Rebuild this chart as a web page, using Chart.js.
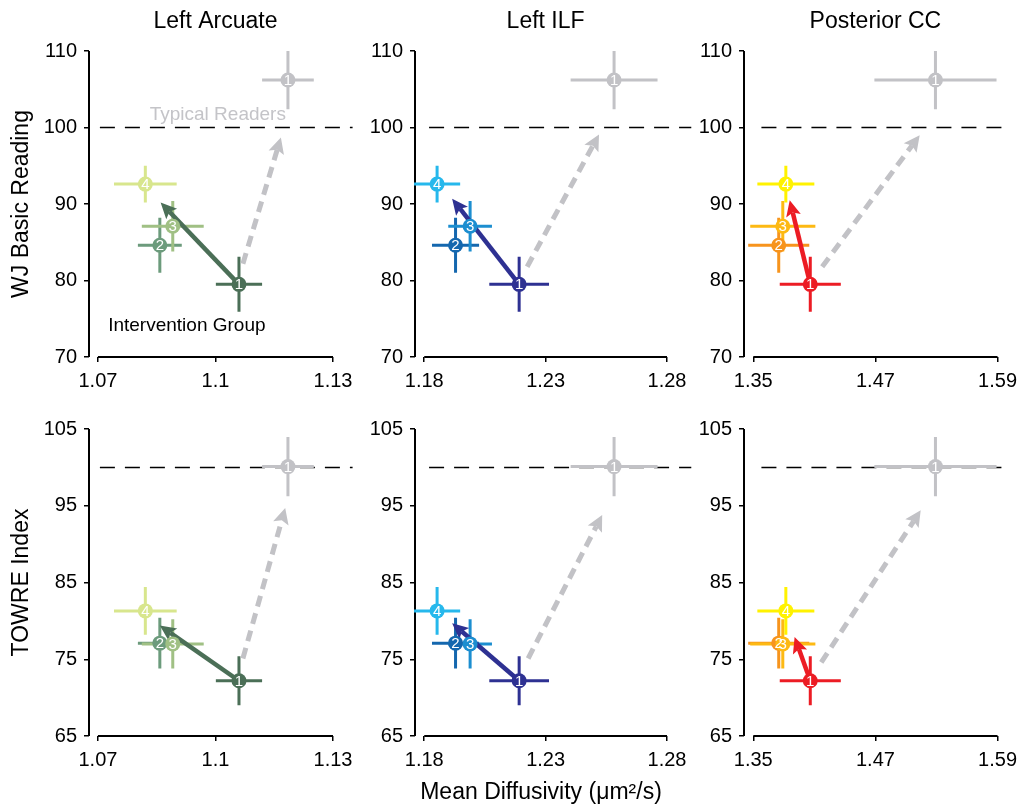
<!DOCTYPE html>
<html>
<head>
<meta charset="utf-8">
<script src="https://cdn.jsdelivr.net/npm/chart.js@4/dist/chart.umd.min.js"></script>
<style>
  body { margin: 0; background: #fff; }
  #fig { position: relative; width: 1024px; height: 808px; overflow: hidden; }
  #fig canvas { position: absolute; }
</style>
</head>
<body>
<div id="fig"></div>
<script>
const tracts = ['Left Arcuate', 'Left ILF', 'Posterior CC'];
const sessions = ['1', '2', '3', '4'];

// mean diffusivity per session (same values in both rows)
const arcuateMD = [1.1060, 1.0858, 1.0891, 1.0821];
const arcuateMDErr = [0.0059, 0.0056, 0.0079, 0.0080];
const ilfMD = [1.2191, 1.1929, 1.1989, 1.1853];
const ilfMDErr = [0.0123, 0.0097, 0.0090, 0.0095];
const ccMD = [1.406, 1.375, 1.379, 1.382];
const ccMDErr = [0.030, 0.030, 0.032, 0.028];

// typical readers, one per tract
const typicalMD = [1.1185, 1.2582, 1.529];
const typicalMDErr = [0.0066, 0.0179, 0.060];

// reading scores per session
const wjScore = [79.5, 84.6, 87.1, 92.6];
const wjErr = [3.6, 3.6, 3.3, 2.4];
const towreScore = [72.2, 77.1, 77.0, 81.3];
const towreErr = [3.2, 3.3, 3.2, 3.1];
const typicalWJ = 106.2;
const typicalWJErr = 3.8;
const typicalTOWRE = 100.1;
const typicalTOWREErr = 3.85;
const typicalLevel = 100;

// intervention arrow: from session 1 to this tip (per tract)
const wjArrowTipMD = [1.0860, 1.1915, 1.3858];
const wjArrowTipScore = [90.2, 90.7, 90.5];
const towreArrowTipMD = [1.0858, 1.1915, 1.3906];
const towreArrowTipScore = [79.4, 79.7, 77.9];

// grey dashed arrow towards typical readers
const wjGainTailMD = [1.107, 1.2224, 1.4177];
const wjGainTailScore = [82.2, 81.8, 81.8];
const wjGainTipMD = [1.1167, 1.2520, 1.5135];
const wjGainTipScore = [98.7, 99.1, 99.0];
const towreGainTailMD = [1.107, 1.2228, 1.4168];
const towreGainTailScore = [75.1, 75.1, 74.6];
const towreGainTipMD = [1.1178, 1.2533, 1.5145];
const towreGainTipScore = [94.7, 93.8, 94.4];

// dashed reference line extent (MD)
const refLineStart = [1.0705, 1.182, 1.358];
const refLineEnd = [1.135, 1.290, 1.595];

// tick labels
const xTicksArcuate = [1.07, 1.1, 1.13];
const xTicksILF = [1.18, 1.23, 1.28];
const xTicksCC = [1.35, 1.47, 1.59];
const wjTicks = [70, 80, 90, 100, 110];
const towreTicks = [65, 75, 85, 95, 105];

const arcuateColors = ['#4b6f57', '#6c9b7c', '#a0c084', '#d8e68d'];
const ilfColors = ['#2e3192', '#1467ae', '#1c8ed0', '#26b8ec'];
const ccColors = ['#ec1c24', '#f7941d', '#fdb913', '#fff200'];
const typicalColor = '#c2c2c6';

Chart.defaults.font.family = "'Liberation Sans', Arial, sans-serif";
Chart.defaults.color = '#000';

const tractData = [
  { md: arcuateMD, mdErr: arcuateMDErr, colors: arcuateColors, xTicks: xTicksArcuate },
  { md: ilfMD, mdErr: ilfMDErr, colors: ilfColors, xTicks: xTicksILF },
  { md: ccMD, mdErr: ccMDErr, colors: ccColors, xTicks: xTicksCC }
];
const measures = [
  { name: 'WJ Basic Reading', score: wjScore, err: wjErr, typ: typicalWJ, typErr: typicalWJErr, ticks: wjTicks,
    tipMD: wjArrowTipMD, tipScore: wjArrowTipScore, gTailMD: wjGainTailMD, gTailScore: wjGainTailScore,
    gTipMD: wjGainTipMD, gTipScore: wjGainTipScore },
  { name: 'TOWRE Index', score: towreScore, err: towreErr, typ: typicalTOWRE, typErr: typicalTOWREErr, ticks: towreTicks,
    tipMD: towreArrowTipMD, tipScore: towreArrowTipScore, gTailMD: towreGainTailMD, gTailScore: towreGainTailScore,
    gTipMD: towreGainTipMD, gTipScore: towreGainTipScore }
];

// layout
const colLeft = [0, 345, 680], colWidth = [360, 350, 344], yAxisW = [89, 70, 64], padRight = [27, 28, 23];
const rowTop = [0, 400], rowHeight = [400, 408], padTop = [51, 29], xAxisH = [43, 72];

function drawArrow(ctx, x0, y0, x1, y1, color, width, headLen, headHalf, dash) {
  const a = Math.atan2(y1 - y0, x1 - x0);
  const c = Math.cos(a), s = Math.sin(a);
  const bx = x1 - headLen * c, by = y1 - headLen * s;
  const nx = x1 - headLen * 0.8 * c, ny = y1 - headLen * 0.8 * s;
  ctx.save();
  ctx.strokeStyle = color;
  ctx.lineWidth = width;
  ctx.setLineDash(dash || []);
  ctx.beginPath();
  ctx.moveTo(x0, y0);
  ctx.lineTo(nx, ny);
  ctx.stroke();
  ctx.setLineDash([]);
  ctx.fillStyle = color;
  ctx.beginPath();
  ctx.moveTo(x1, y1);
  ctx.lineTo(bx + headHalf * s, by - headHalf * c);
  ctx.lineTo(nx, ny);
  ctx.lineTo(bx - headHalf * s, by + headHalf * c);
  ctx.closePath();
  ctx.fill();
  ctx.restore();
}

function crossBar(ctx, xs, ys, x, xe, y, ye, color) {
  ctx.strokeStyle = color;
  ctx.lineWidth = 3;
  ctx.beginPath();
  ctx.moveTo(xs.getPixelForValue(x - xe), ys.getPixelForValue(y));
  ctx.lineTo(xs.getPixelForValue(x + xe), ys.getPixelForValue(y));
  ctx.moveTo(xs.getPixelForValue(x), ys.getPixelForValue(y - ye));
  ctx.lineTo(xs.getPixelForValue(x), ys.getPixelForValue(y + ye));
  ctx.stroke();
}

const marks = {
  id: 'marks',
  beforeDatasetsDraw(chart, args, o) {
    const ctx = chart.ctx, xs = chart.scales.x, ys = chart.scales.y;
    const xt = o.tract.xTicks;
    ctx.save();
    ctx.strokeStyle = '#000';
    ctx.lineWidth = 2;
    ctx.beginPath();
    ctx.moveTo(xs.getPixelForValue(xt[0]), chart.chartArea.bottom);
    ctx.lineTo(xs.getPixelForValue(xt[xt.length - 1]), chart.chartArea.bottom);
    ctx.moveTo(chart.chartArea.left, ys.getPixelForValue(o.measure.ticks[o.measure.ticks.length - 1]));
    ctx.lineTo(chart.chartArea.left, ys.getPixelForValue(o.measure.ticks[0]));
    ctx.stroke();
    ctx.restore();
  },
  afterDatasetDraw(chart, args, o) {
    if (args.index !== 2) return;
    const ctx = chart.ctx, xs = chart.scales.x, ys = chart.scales.y;
    const t = o.tract, m = o.measure, k = o.k;
    ctx.save();
    crossBar(ctx, xs, ys, typicalMD[k], typicalMDErr[k], m.typ, m.typErr, typicalColor);
    for (let i = 0; i < sessions.length; i++) {
      crossBar(ctx, xs, ys, t.md[i], t.mdErr[i], m.score[i], m.err[i], t.colors[i]);
    }
    ctx.restore();
    drawArrow(ctx, xs.getPixelForValue(m.gTailMD[k]), ys.getPixelForValue(m.gTailScore[k]),
      xs.getPixelForValue(m.gTipMD[k]), ys.getPixelForValue(m.gTipScore[k]),
      typicalColor, 5, 16, 8, [11, 7]);
    drawArrow(ctx, xs.getPixelForValue(t.md[0]), ys.getPixelForValue(m.score[0]),
      xs.getPixelForValue(m.tipMD[k]), ys.getPixelForValue(m.tipScore[k]),
      t.colors[0], 4.5, 16, 7.5);
  },
  afterDatasetsDraw(chart, args, o) {
    const ctx = chart.ctx, xs = chart.scales.x, ys = chart.scales.y;
    const t = o.tract, m = o.measure, k = o.k;
    ctx.save();
    ctx.fillStyle = '#fff';
    ctx.font = "15px 'Liberation Sans', Arial, sans-serif";
    ctx.textAlign = 'center';
    ctx.textBaseline = 'middle';
    ctx.fillText('1', xs.getPixelForValue(typicalMD[k]), ys.getPixelForValue(m.typ) + 1);
    for (let i = 0; i < sessions.length; i++) {
      ctx.fillText(sessions[i], xs.getPixelForValue(t.md[i]), ys.getPixelForValue(m.score[i]) + 1);
    }
    const xt = t.xTicks;
    const cx = (xs.getPixelForValue(xt[0]) + xs.getPixelForValue(xt[xt.length - 1])) / 2;
    if (o.row === 0) {
      ctx.fillStyle = '#000';
      ctx.font = "23px 'Liberation Sans', Arial, sans-serif";
      ctx.fillText(tracts[k], cx, 22);
    }
    if (o.row === 0 && k === 0) {
      ctx.font = "19px 'Liberation Sans', Arial, sans-serif";
      ctx.fillStyle = '#c4c4c8';
      ctx.fillText('Typical Readers', xs.getPixelForValue(1.1006), ys.getPixelForValue(101.6));
      ctx.fillStyle = '#000';
      ctx.fillText('Intervention Group', xs.getPixelForValue(1.0927), ys.getPixelForValue(74.1));
    }
    ctx.restore();
  }
};

const fig = document.getElementById('fig');
for (let r = 0; r < 2; r++) {
  for (let k = 0; k < 3; k++) {
    const t = tractData[k], m = measures[r];
    const cv = document.createElement('canvas');
    cv.width = colWidth[k];
    cv.height = rowHeight[r];
    cv.style.left = colLeft[k] + 'px';
    cv.style.top = rowTop[r] + 'px';
    fig.appendChild(cv);

    const xt = t.xTicks;
    const span = xt[xt.length - 1] - xt[0];
    new Chart(cv, {
      type: 'scatter',
      data: {
        datasets: [
          {
            data: [{ x: typicalMD[k], y: m.typ }],
            backgroundColor: typicalColor, borderWidth: 0,
            pointRadius: 7.5, pointHoverRadius: 7.5, order: 1
          },
          {
            data: t.md.map((v, i) => ({ x: v, y: m.score[i] })),
            backgroundColor: t.colors, borderWidth: 0,
            pointRadius: 7.5, pointHoverRadius: 7.5, order: 0
          },
          {
            type: 'line', showLine: true,
            data: [{ x: refLineStart[k], y: typicalLevel }, { x: refLineEnd[k], y: typicalLevel }],
            borderColor: '#000', borderWidth: 1.5, borderDash: [15, 10],
            pointRadius: 0, clip: false, order: 5
          }
        ]
      },
      options: {
        responsive: false,
        animation: false,
        events: [],
        layout: { padding: { top: padTop[r], right: padRight[k], bottom: 0, left: 0 } },
        plugins: {
          legend: { display: false },
          tooltip: { enabled: false },
          marks: { tract: t, measure: m, k: k, row: r }
        },
        scales: {
          x: {
            type: 'linear',
            min: xt[0] - span * 0.038,
            max: xt[xt.length - 1],
            afterBuildTicks: s => { s.ticks = xt.map(v => ({ value: v })); },
            afterFit: s => { s.height = xAxisH[r]; },
            ticks: { callback: v => String(v), font: { size: 20 }, color: '#000', padding: 7, maxRotation: 0, autoSkip: false },
            grid: { drawOnChartArea: false, drawTicks: true, tickLength: 5, color: '#000', lineWidth: 1.5 },
            border: { display: false },
            title: {
              display: r === 1 && k === 1,
              text: 'Mean Diffusivity (\u03bcm\u00b2/s)',
              font: { size: 23 }, color: '#000',
              padding: { top: 0, bottom: 2 }
            }
          },
          y: {
            min: m.ticks[0],
            max: m.ticks[m.ticks.length - 1],
            afterFit: s => { s.width = yAxisW[k]; },
            ticks: { stepSize: 10, font: { size: 20 }, color: '#000', padding: 7 },
            grid: { drawOnChartArea: false, drawTicks: true, tickLength: 5, color: '#000', lineWidth: 1.5 },
            border: { display: false },
            title: {
              display: k === 0,
              text: m.name,
              font: { size: 23 }, color: '#000',
              padding: { top: 8, bottom: 0 }
            }
          }
        }
      },
      plugins: [marks]
    });
  }
}
</script>
</body>
</html>
